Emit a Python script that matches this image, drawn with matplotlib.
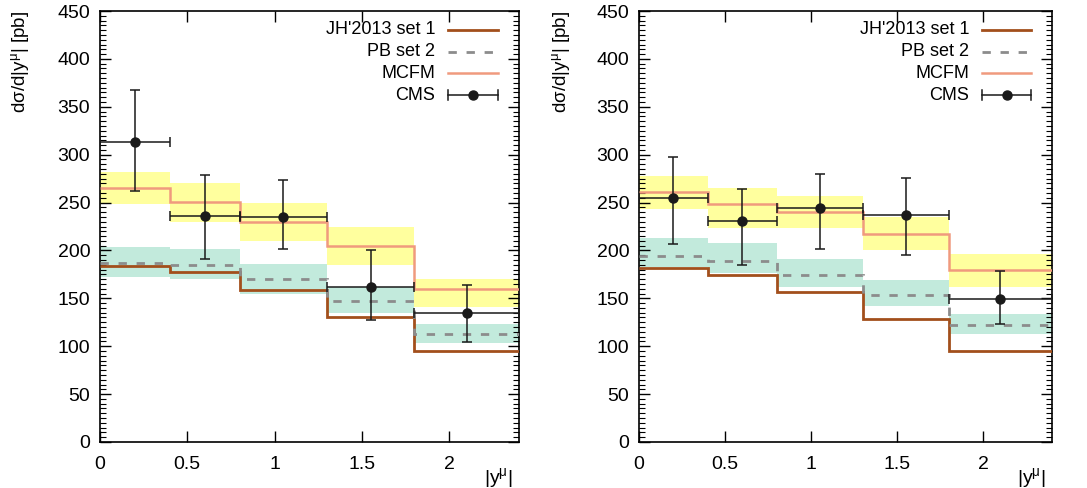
import numpy as np
import matplotlib
matplotlib.use("Agg")
import matplotlib.pyplot as plt
from matplotlib.ticker import MultipleLocator

plt.rcParams['font.family'] = ['Liberation Sans', 'DejaVu Sans']
plt.rcParams['mathtext.fontset'] = 'custom'
plt.rcParams['mathtext.rm'] = 'Liberation Sans'
plt.rcParams['mathtext.it'] = 'Liberation Sans:italic'

# bin edges in |y^mu|
edges = [0.0, 0.4, 0.8, 1.3, 1.8, 2.4]
centers = [0.2, 0.6, 1.05, 1.55, 2.1]

# left panel
jh_l = [184, 177, 159, 130.5, 95.5]
pb_l = [187, 184.5, 170, 147, 113]
pb_lo_l = [172, 170, 155, 135, 103.5]
pb_hi_l = [203.5, 201.5, 185.5, 161.5, 123.5]
mcfm_l = [265.5, 250.5, 230, 205, 160]
mcfm_lo_l = [248.5, 230, 210, 185, 140.5]
mcfm_hi_l = [281.5, 270, 250, 225, 170]
cms_l = [313, 236, 235, 162, 135]
cms_up_l = [367.5, 278.5, 274, 200.5, 164]
cms_dn_l = [262.5, 191.5, 201, 127, 104]

# right panel
jh_r = [181.5, 174.5, 157, 128.5, 94.5]
pb_r = [194.5, 189, 174, 153, 122]
pb_lo_r = [183, 176, 161.5, 142.5, 112.5]
pb_hi_r = [213.5, 208, 191, 169, 133.5]
mcfm_r = [260.5, 248.5, 240, 217.5, 179.5]
mcfm_lo_r = [243.5, 223, 223, 200.5, 162]
mcfm_hi_r = [277.5, 265, 257, 235, 196]
cms_r = [255, 231, 244, 237, 149]
cms_up_r = [297.5, 264, 279.5, 276, 179]
cms_dn_r = [207, 185, 202, 195, 123]

c_jh = '#a24f1c'
c_pb = '#8c8c8c'
c_mcfm = '#f09a7e'
c_yel = '#ffff9e'
c_teal = '#c2eadc'
c_cms = '#1a1a1a'

fig = plt.figure(figsize=(10.87, 4.88), dpi=100)
ax_l = fig.add_axes([100 / 1087, 46 / 488, 419 / 1087, 431 / 488])
ax_r = fig.add_axes([639 / 1087, 46 / 488, 413 / 1087, 431 / 488])


def draw_panel(ax, jh, pb, pb_lo, pb_hi, mcfm, mcfm_lo, mcfm_hi, cms, cms_up, cms_dn):
    ax.stairs(mcfm_hi, edges, baseline=mcfm_lo, fill=True, color=c_yel, lw=0, zorder=1)
    ax.stairs(pb_hi, edges, baseline=pb_lo, fill=True, color=c_teal, lw=0, zorder=1)
    ax.stairs(jh, edges, baseline=None, color=c_jh, lw=2.0, zorder=3)
    ax.stairs(pb, edges, baseline=None, color=c_pb, lw=2.0, ls=(0, (3, 3.5)), zorder=3)
    ax.stairs(mcfm, edges, baseline=None, color=c_mcfm, lw=1.8, zorder=3)

    cms = np.array(cms)
    yerr = [cms - np.array(cms_dn), np.array(cms_up) - cms]
    xerr = [np.array(centers) - np.array(edges[:-1]), np.array(edges[1:]) - np.array(centers)]
    ax.errorbar(centers, cms, yerr=yerr, xerr=xerr, fmt='o', color=c_cms, ms=6.5,
                elinewidth=1.1, capsize=3.5, capthick=1.1, zorder=4)

    ax.set_xlim(0, 2.4)
    ax.set_ylim(0, 450)
    ax.yaxis.set_major_locator(MultipleLocator(50))
    ax.yaxis.set_minor_locator(MultipleLocator(5))
    ax.set_xticks([0, 0.5, 1, 1.5, 2])
    ax.set_xticklabels(['0', '0.5', '1', '1.5', '2'])
    ax.tick_params(which='both', direction='in', top=True, right=True, labelsize=14)
    ax.tick_params(which='major', length=8, width=1)
    ax.tick_params(which='minor', length=4, width=0.8)
    ax.tick_params(axis='x', pad=10)
    ax.tick_params(axis='y', pad=7)
    for s in ax.spines.values():
        s.set_linewidth(1.2)

    ax.text(-0.19, 1.0, r'dσ/d|y$^{\mathrm{μ}}$| [pb]', transform=ax.transAxes,
            rotation=90, ha='center', va='top', fontsize=13.5)
    ax.text(0.985, -0.083, r'|y$^{\mathrm{μ}}$|', transform=ax.transAxes,
            ha='right', va='center', fontsize=14)

    # legend drawn by hand: text right-aligned, sample to the right
    tr = ax.transAxes
    rows = [0.956, 0.906, 0.856, 0.805]
    labels = ["JH'2013 set 1", 'PB set 2', 'MCFM', 'CMS']
    for yy, lab in zip(rows, labels):
        ax.text(0.80, yy, lab, transform=tr, ha='right', va='center', fontsize=13)
    x0, x1 = 0.83, 0.95
    ax.plot([x0, x1], [rows[0]] * 2, transform=tr, color=c_jh, lw=2.0)
    ax.plot([x0, x1], [rows[1]] * 2, transform=tr, color=c_pb, lw=2.0, ls=(0, (3, 3.5)))
    ax.plot([x0, x1], [rows[2]] * 2, transform=tr, color=c_mcfm, lw=1.8)
    ax.plot([x0, x1], [rows[3]] * 2, transform=tr, color=c_cms, lw=1.1)
    ax.plot([(x0 + x1) / 2], [rows[3]], transform=tr, marker='o', color=c_cms, ms=6.5)
    for xx in (x0, x1):
        ax.plot([xx, xx], [rows[3] - 0.012, rows[3] + 0.012], transform=tr, color=c_cms, lw=1.1)


draw_panel(ax_l, jh_l, pb_l, pb_lo_l, pb_hi_l, mcfm_l, mcfm_lo_l, mcfm_hi_l, cms_l, cms_up_l, cms_dn_l)
draw_panel(ax_r, jh_r, pb_r, pb_lo_r, pb_hi_r, mcfm_r, mcfm_lo_r, mcfm_hi_r, cms_r, cms_up_r, cms_dn_r)

fig.savefig('out.png', dpi=100)
